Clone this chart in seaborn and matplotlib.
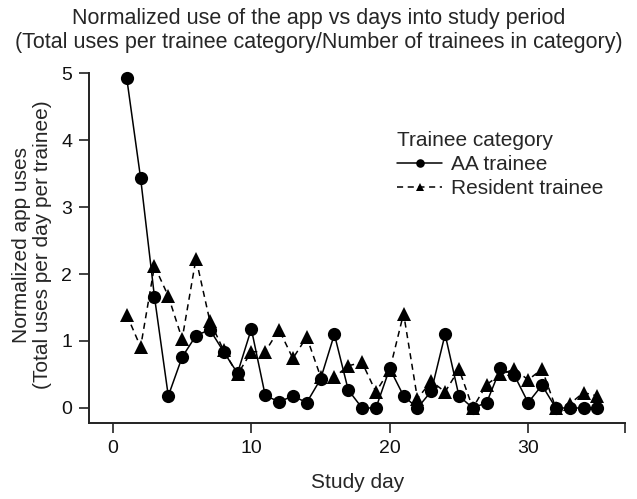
import matplotlib
matplotlib.use("Agg")
import matplotlib.pyplot as plt
import seaborn as sns
import pandas as pd

days = list(range(1, 36))
aa_trainee = [4.92, 3.43, 1.66, 0.18, 0.76, 1.08, 1.17, 0.84, 0.52, 1.18,
              0.19, 0.09, 0.18, 0.08, 0.43, 1.10, 0.27, 0.0, 0.0, 0.59,
              0.18, 0.0, 0.25, 1.10, 0.18, 0.0, 0.08, 0.59, 0.49, 0.08,
              0.34, 0.0, 0.0, 0.0, 0.0]
resident_trainee = [1.39, 0.91, 2.12, 1.67, 1.03, 2.23, 1.30, 0.86, 0.50, 0.84,
                    0.84, 1.17, 0.74, 1.06, 0.47, 0.46, 0.63, 0.68, 0.24, 0.57,
                    1.41, 0.14, 0.40, 0.24, 0.58, 0.0, 0.35, 0.50, 0.58, 0.42,
                    0.58, 0.0, 0.06, 0.23, 0.18]
categories = ["AA trainee", "Resident trainee"]
x_ticks = [0, 10, 20, 30]
y_ticks = [0, 1, 2, 3, 4, 5]

df = pd.DataFrame({
    "Study day": days * 2,
    "value": aa_trainee + resident_trainee,
    "Trainee category": [categories[0]] * len(days) + [categories[1]] * len(days),
})

sns.set_style("ticks")
plt.rcParams["font.family"] = ["Liberation Sans", "DejaVu Sans"]

fig = plt.figure(figsize=(6.37, 4.99), dpi=100)
ax = fig.add_axes([0.1397, 0.1523, 0.8437, 0.7148])

sns.lineplot(data=df, x="Study day", y="value", style="Trainee category",
             markers={categories[0]: "o", categories[1]: "^"},
             dashes={categories[0]: "", categories[1]: (4, 3)},
             color="black", linewidth=1.1, markersize=9.5, markeredgewidth=0,
             ax=ax)

ax.set_xlim(-1.73, 37.1)
ax.set_ylim(-0.224, 5.1)
ax.set_xticks(x_ticks + [37])
ax.set_xticklabels([str(t) for t in x_ticks] + [""])
ax.set_yticks(y_ticks)
ax.set_yticklabels([str(t) for t in y_ticks])
ax.spines["left"].set_bounds(-0.224, 5)
ax.spines["bottom"].set_bounds(-1.73, 37)
for s in ["top", "right"]:
    ax.spines[s].set_visible(False)
for s in ["left", "bottom"]:
    ax.spines[s].set_linewidth(1.4)
    ax.spines[s].set_color("#222222")
ax.tick_params(axis="both", labelsize=14, length=7, width=1.2, color="#222222",
               labelcolor="#111111", pad=5)

ax.set_xlabel("Study day", fontsize=15, labelpad=12)
ax.set_ylabel("Normalized app uses\n(Total uses per day per trainee)", fontsize=15,
              labelpad=7, linespacing=1.1)
fig.suptitle("Normalized use of the app vs days into study period\n"
             "(Total uses per trainee category/Number of trainees in category)",
             fontsize=15.5, y=0.983, linespacing=1.15)

leg = ax.legend(title="Trainee category", loc="upper left",
                bbox_to_anchor=(0.624, 0.738), bbox_transform=fig.transFigure,
                frameon=False, fontsize=15, title_fontsize=15,
                handlelength=2.15, handletextpad=0.4, labelspacing=0.25,
                borderpad=0.0, borderaxespad=0, markerscale=0.65)
leg._legend_box.align = "left"

fig.savefig("out.png", dpi=100)
